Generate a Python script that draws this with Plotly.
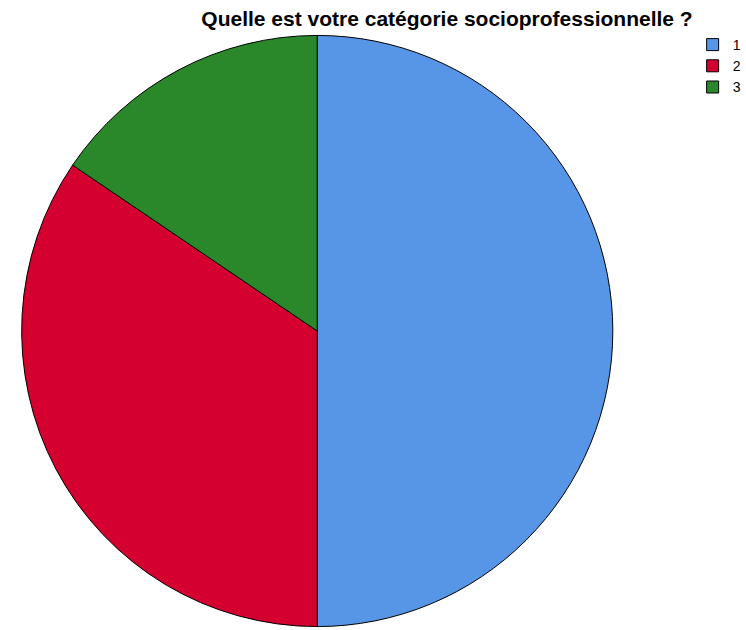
import plotly.graph_objects as go

# Socio-professional category responses
categories = ["1", "2", "3"]
counts = [29, 20, 9]
colors = ["#5796E6", "#D4002F", "#2A872A"]

W, H = 746, 630

fig = go.Figure(
    go.Pie(
        labels=categories,
        values=counts,
        sort=False,
        direction="clockwise",
        rotation=0,
        textinfo="none",
        hoverinfo="label+value+percent",
        marker=dict(colors=colors, line=dict(color="#000000", width=1)),
        domain=dict(x=[22 / W, 622 / W], y=[0, 1 - 32 / H]),
    )
)

fig.update_layout(
    width=W,
    height=H,
    margin=dict(l=0, r=0, t=0, b=0),
    paper_bgcolor="white",
    title=dict(
        text="<b>Quelle est votre catégorie socioprofessionnelle ?</b>",
        font=dict(family="Liberation Sans, Arial, sans-serif", size=21, color="#000000"),
        x=447 / W,
        xanchor="center",
        y=1 - 19 / H,
        yanchor="middle",
    ),
    legend=dict(
        x=703 / W,
        xanchor="left",
        y=1 - 29 / H,
        yanchor="top",
        font=dict(family="Liberation Sans, Arial, sans-serif", size=14, color="#000000"),
        itemwidth=30,
        tracegroupgap=0,
        bgcolor="rgba(0,0,0,0)",
    ),
)

fig.write_html("out.html")
